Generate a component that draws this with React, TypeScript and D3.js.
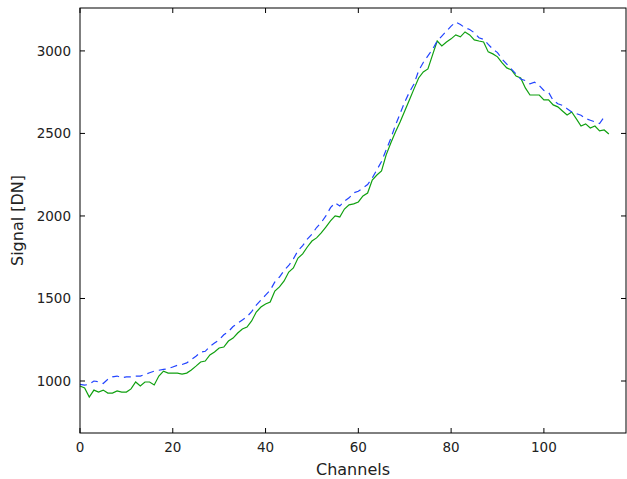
import React from "react";
import * as d3 from "d3";

// signal per channel
const greenSignal = [
  970, 958, 903, 945, 933, 945, 927, 927, 940, 933,
  933, 952, 994, 970, 994, 994, 976, 1030, 1060, 1048,
  1048, 1048, 1042, 1048, 1067, 1090, 1115, 1121, 1158, 1176,
  1200, 1206, 1242, 1260, 1291, 1315, 1327, 1364, 1418, 1448,
  1467, 1479, 1545, 1570, 1606, 1660, 1685, 1745, 1770, 1812,
  1848, 1867, 1897, 1933, 1970, 2000, 1994, 2042, 2067, 2073,
  2085, 2121, 2139, 2218, 2248, 2273, 2370, 2442, 2509, 2570,
  2636, 2703, 2770, 2836, 2873, 2891, 2976, 3060, 3030, 3054,
  3073, 3097, 3085, 3115, 3097, 3067, 3060, 3054, 2994, 2982,
  2964, 2927, 2897, 2885, 2848, 2836, 2776, 2733, 2733, 2733,
  2703, 2703, 2673, 2661, 2636, 2612, 2630, 2588, 2545, 2558,
  2533, 2545, 2515, 2521, 2497,
];

const blueSignal = [
  980, 975, 980, 1000, 995, 985, 1010, 1025, 1030, 1020,
  1025, 1025, 1030, 1030, 1040, 1050, 1060, 1065, 1070, 1075,
  1085, 1095, 1100, 1110, 1130, 1150, 1175, 1180, 1210, 1230,
  1250, 1280, 1300, 1330, 1350, 1370, 1390, 1420, 1460, 1490,
  1520, 1550, 1600, 1630, 1670, 1700, 1740, 1790, 1820, 1860,
  1890, 1930, 1960, 2000, 2050, 2080, 2060, 2090, 2110, 2140,
  2150, 2170, 2190, 2230, 2280, 2330, 2400, 2470, 2550, 2620,
  2690, 2750, 2800, 2880, 2930, 2970, 3010, 3060, 3090, 3120,
  3150, 3175, 3160, 3140, 3130, 3110, 3080, 3070, 3040, 3010,
  2990, 2950, 2920, 2890, 2860, 2830, 2820, 2800, 2810, 2790,
  2760, 2750, 2700, 2680, 2670, 2650, 2630, 2620, 2610, 2590,
  2580, 2570, 2560, 2600,
];

const xTicks = [0, 20, 40, 60, 80, 100];
const yTicks = [1000, 1500, 2000, 2500, 3000];

export default function App() {
  const W = 627;
  const H = 479;
  const margin = { top: 8, right: 1, bottom: 46, left: 80 };
  const innerW = W - margin.left - margin.right;
  const innerH = H - margin.top - margin.bottom;

  const x = d3.scaleLinear().domain([0, 117.7]).range([0, innerW]);
  const y = d3.scaleLinear().domain([685, 3260]).range([innerH, 0]);

  const line = d3
    .line<number>()
    .x((_, i) => x(i))
    .y((d) => y(d));

  const tick = 5;
  const font = "DejaVu Sans, sans-serif";

  return (
    <svg
      width={W}
      height={H}
      style={{ position: "absolute", left: 0, top: 0, background: "#fff" }}
      fontFamily={font}
    >
      <g transform={`translate(${margin.left},${margin.top})`}>
        <path d={line(greenSignal) || ""} fill="none" stroke="#10a010" strokeWidth={1.2} />
        <path
          d={line(blueSignal) || ""}
          fill="none"
          stroke="#2244ff"
          strokeWidth={1.2}
          strokeDasharray="7,5"
        />
        <rect width={innerW} height={innerH} fill="none" stroke="#000" strokeWidth={1} />
        {xTicks.map((t) => (
          <g key={"x" + t} transform={`translate(${x(t)},0)`}>
            <line y1={innerH} y2={innerH - tick} stroke="#000" />
            <line y1={0} y2={tick} stroke="#000" />
            <text y={innerH + 19} textAnchor="middle" fontSize={13.5} fill="#222">
              {t}
            </text>
          </g>
        ))}
        {yTicks.map((t) => (
          <g key={"y" + t} transform={`translate(0,${y(t)})`}>
            <line x1={0} x2={tick} stroke="#000" />
            <line x1={innerW} x2={innerW - tick} stroke="#000" />
            <text x={-9} dy="0.35em" textAnchor="end" fontSize={13.5} fill="#222">
              {t}
            </text>
          </g>
        ))}
        <text
          x={innerW / 2}
          y={innerH + 42}
          textAnchor="middle"
          fontSize={16}
          fill="#222"
        >
          Channels
        </text>
        <text
          transform={`translate(${-57},${innerH / 2}) rotate(-90)`}
          textAnchor="middle"
          fontSize={16}
          fill="#222"
        >
          Signal [DN]
        </text>
      </g>
    </svg>
  );
}
